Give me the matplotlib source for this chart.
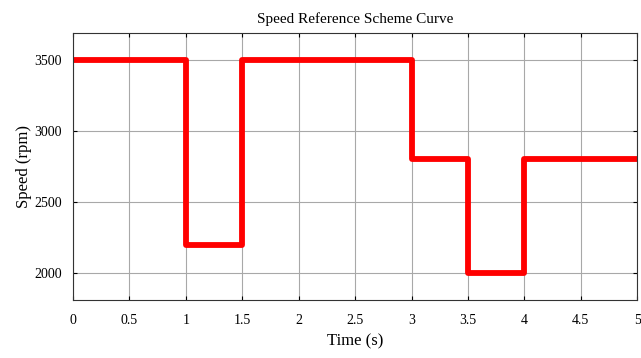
import matplotlib
matplotlib.use("Agg")
from matplotlib import pyplot as plt

# step times and speed reference levels (rpm)
time_s = [0, 1, 1, 1.5, 1.5, 3, 3, 3.5, 3.5, 4, 4, 5]
speed_rpm = [3500, 3500, 2200, 2200, 3500, 3500, 2800, 2800, 2000, 2000, 2800, 2800]
x_ticks = [0, 0.5, 1, 1.5, 2, 2.5, 3, 3.5, 4, 4.5, 5]
x_tick_labels = ['0', '0.5', '1', '1.5', '2', '2.5', '3', '3.5', '4', '4.5', '5']
y_ticks = [2000, 2500, 3000, 3500]

plt.rcParams['font.family'] = ['Liberation Serif', 'DejaVu Serif']

fig = plt.figure(figsize=(6.41, 3.58), dpi=100)
ax = fig.add_axes([0.114, 0.162, 0.880, 0.746])
ax.plot(time_s, speed_rpm, color='red', linewidth=4.2, solid_joinstyle='round')
ax.set_xlim(0, 5)
ax.set_ylim(1810, 3690)
ax.set_xticks(x_ticks)
ax.set_xticklabels(x_tick_labels)
ax.set_yticks(y_ticks)
ax.grid(True, color='#a8a8a8', linewidth=0.8)
ax.tick_params(axis='both', direction='in', top=True, right=True, labelsize=10, length=3)
ax.tick_params(axis='x', pad=10)
ax.tick_params(axis='y', pad=8)
for s in ax.spines.values():
    s.set_linewidth(0.8)
    s.set_color('#333333')
ax.set_title('Speed Reference Scheme Curve', fontsize=11, pad=7)
ax.set_xlabel('Time (s)', fontsize=12, labelpad=5)
ax.set_ylabel('Speed (rpm)', fontsize=12, labelpad=2)
fig.savefig('out.png', dpi=100)
